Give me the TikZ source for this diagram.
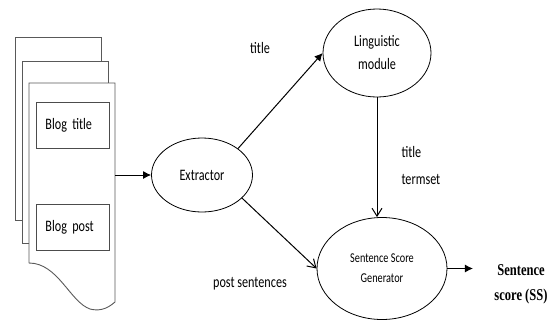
\documentclass[tikz,border=0pt]{standalone}
\usepackage{fontspec}
\setmainfont{Carlito}[FakeStretch=0.76]
\newfontfamily\ssfont{Liberation Serif}[FakeStretch=0.76]
\usetikzlibrary{shapes.geometric,arrows.meta,positioning}

\begin{document}
\begin{tikzpicture}[x=1pt,y=-1pt,
        page/.style={draw=black!65, line width=0.9pt},
        box/.style={draw=black!70, line width=0.9pt, minimum width=73pt, minimum height=46pt,
            text width=55pt, align=left, inner sep=0pt, font=\fontsize{16}{20}\selectfont},
        ell/.style={draw, ellipse, line width=0.8pt, inner sep=0pt, align=center,
            font=\fontsize{16}{23}\selectfont},
        lbl/.style={align=left, font=\fontsize{16}{27}\selectfont},
        arr/.style={-{Latex[length=8pt,width=8pt]}, line width=1pt},
        barb/.style={-{Straight Barb[length=8pt,width=10pt]}, line width=1pt}]
    \useasboundingbox (0,0) rectangle (548,322);

    % stack of blog pages
    \draw[page] (22,220) -- (15,220) -- (15,37) -- (101,37) -- (101,61);
    \draw[page] (29,243) -- (22,243) -- (22,61) -- (108,61) -- (108,83);
    \draw[page] (29,263) -- (29,83) -- (115,83) -- (115,302)
        .. controls (106,310) and (98,311) .. (90,309)
        .. controls (70,302) and (58,263) .. (29,263);
    \node[box, anchor=north west] (bt) at (36,102) {Blog title};
    \node[box, anchor=north west] (bp) at (36,204) {Blog post};
    \coordinate (doc) at (115,175);

    \node[ell, minimum width=101pt, minimum height=74pt] (ext) at (202,175) {Extractor};
    \node[ell, minimum width=108pt, minimum height=88pt] (ling) at (377,53) {Linguistic\\module};
    \node[ell, minimum width=130pt, minimum height=102pt, font=\fontsize{13.5}{20}\selectfont]
        (ssg) at (382,268.5) {Sentence Score\\Generator};
    \node[align=center, font=\ssfont\bfseries\fontsize{16.5}{25}\selectfont] (ss) at (521,284) {Sentence\\score (SS)};

    \node[lbl] (t1) at (260,48) {title};
    \node[lbl, anchor=west] (t2) at (398,165) {title\\termset};
    \node[lbl] (ps) at (250,284) {post sentences};

    \draw[arr] (doc) -- (ext);
    \draw[arr] (ext.north east) -- (ling.west);
    \draw[barb] (ling.south) -- (ling.south |- ssg.north);
    \draw[barb] (ext.-30) -- (ssg.west);
    \draw[arr, shorten >=18pt] (ssg.east) -- (ssg.east -| ss.west);
\end{tikzpicture}
\end{document}
